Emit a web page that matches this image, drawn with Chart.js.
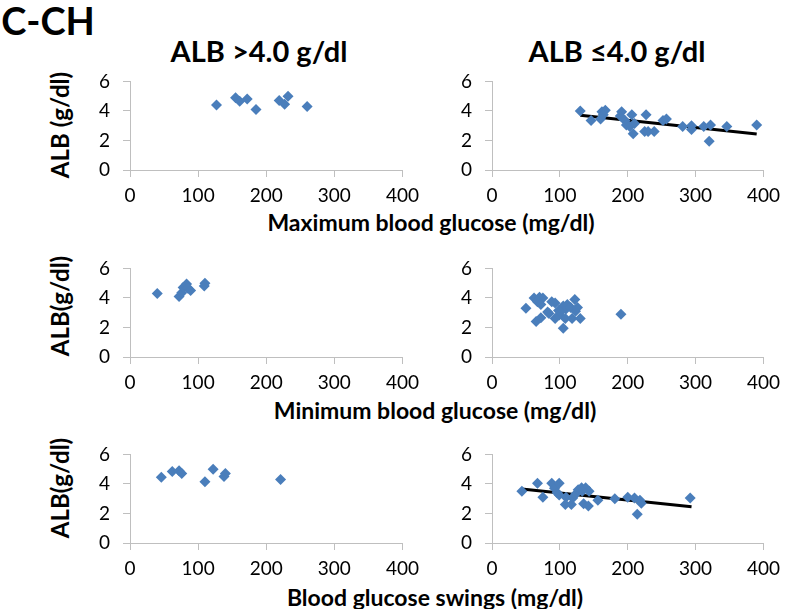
<!DOCTYPE html>
<html>
<head>
<meta charset="utf-8">
<script src="https://cdn.jsdelivr.net/npm/chart.js@4"></script>
<style>
  body { margin: 0; background: #fff; width: 787px; height: 609px; position: relative; overflow: hidden; font-family: Lato, sans-serif; }
  canvas { position: absolute; }
  .lbl { position: absolute; font-weight: bold; color: #000; white-space: nowrap; line-height: 1; transform: translate(-50%, -50%); }
  .rot { transform: translate(-50%, -50%) rotate(-90deg); }
</style>
</head>
<body>
<div class="lbl" style="left:48px; top:20px; font-size:38px;">C-CH</div>
<div class="lbl" style="left:259px; top:50px; font-size:29px;">ALB &gt;4.0 g/dl</div>
<div class="lbl" style="left:617px; top:50px; font-size:29px;">ALB ≤4.0 g/dl</div>
<div class="lbl" style="left:431px; top:222px; font-size:23px;">Maximum blood glucose (mg/dl)</div>
<div class="lbl" style="left:435px; top:410px; font-size:23px;">Minimum blood glucose (mg/dl)</div>
<div class="lbl" style="left:435px; top:597px; font-size:23px;">Blood glucose swings (mg/dl)</div>
<div class="lbl rot" style="left:60px; top:125px; font-size:24px;">ALB (g/dl)</div>
<div class="lbl rot" style="left:60px; top:306px; font-size:24px;">ALB(g/dl)</div>
<div class="lbl rot" style="left:60px; top:488px; font-size:24px;">ALB(g/dl)</div>

<canvas id="p1" width="341" height="148" style="left:85px; top:57px;"></canvas>
<canvas id="p2" width="340" height="148" style="left:447px; top:57px;"></canvas>
<canvas id="p3" width="341" height="148" style="left:85px; top:244px;"></canvas>
<canvas id="p4" width="340" height="148" style="left:447px; top:244px;"></canvas>
<canvas id="p5" width="341" height="148" style="left:85px; top:430px;"></canvas>
<canvas id="p6" width="340" height="148" style="left:447px; top:430px;"></canvas>

<script>
// --- Data ---
const xTicks = [0, 100, 200, 300, 400];
const yTicks = [0, 2, 4, 6];

// Maximum blood glucose
const maxHighX = [127, 155, 161, 172, 185, 219, 227, 232, 260];
const maxHighY = [4.4, 4.9, 4.65, 4.8, 4.1, 4.7, 4.45, 5.0, 4.3];
const maxLowX = [130, 146, 160, 162, 167, 164, 191, 189, 196, 198, 203, 206, 208, 210, 227, 225, 230, 239, 252, 257, 281, 294, 294, 312, 322, 320, 346, 390];
const maxLowY = [4.0, 3.35, 3.45, 3.95, 4.05, 3.75, 3.95, 3.65, 3.35, 3.05, 2.95, 3.75, 2.45, 3.15, 3.75, 2.6, 2.6, 2.6, 3.35, 3.45, 2.95, 3.0, 2.75, 2.95, 3.05, 1.95, 2.95, 3.05];
const maxTrendX = [130, 390];
const maxTrendY = [3.70, 2.44];

// Minimum blood glucose
const minHighX = [40, 72, 76, 78, 83, 85, 89, 110, 109];
const minHighY = [4.3, 4.1, 4.35, 4.7, 4.95, 4.65, 4.5, 5.0, 4.8];
const minLowX = [50, 62, 70, 75, 67, 72, 65, 72, 82, 88, 93, 93, 98, 99, 105, 105, 109, 108, 111, 116, 118, 122, 123, 126, 130, 190, 101, 84];
const minLowY = [3.3, 4.0, 4.05, 4.0, 3.75, 3.55, 2.4, 2.65, 3.05, 3.75, 3.65, 2.6, 3.15, 2.85, 3.45, 1.95, 3.25, 2.6, 3.55, 3.35, 2.6, 3.9, 3.1, 3.35, 2.6, 2.9, 3.05, 2.95];

// Blood glucose swings
const swHighX = [46, 62, 72, 76, 110, 122, 138, 140, 221];
const swHighY = [4.45, 4.85, 4.9, 4.7, 4.15, 5.0, 4.5, 4.7, 4.3];
const swLowX = [44, 67, 75, 88, 92, 99, 96, 99, 109, 108, 117, 119, 123, 127, 132, 138, 135, 142, 143, 156, 181, 200, 210, 214, 220, 218, 292, 133];
const swLowY = [3.5, 4.05, 3.1, 4.05, 3.7, 4.05, 3.4, 3.25, 3.1, 2.6, 2.6, 3.05, 3.3, 3.6, 3.75, 3.75, 2.65, 2.5, 3.5, 2.9, 3.0, 3.1, 3.05, 1.95, 2.7, 2.9, 3.05, 3.5];
const swTrendX = [44, 294];
const swTrendY = [3.66, 2.46];

Chart.defaults.font.family = 'Lato, sans-serif';
Chart.defaults.color = '#000';

const AXIS_GRAY = '#bfbfbf';
const MARKER = '#4a7ebb';

function toPoints(xs, ys) {
    return xs.map((x, i) => ({ x: x, y: ys[i] }));
}

function makePanel(id, xs, ys, trendX, trendY) {
    const datasets = [{
        data: toPoints(xs, ys),
        pointStyle: 'rectRot',
        pointRadius: 5.5,
        pointBackgroundColor: MARKER,
        pointBorderColor: MARKER,
        pointBorderWidth: 0,
        showLine: false
    }];
    if (trendX) {
        datasets.push({
            data: toPoints(trendX, trendY),
            showLine: true,
            borderColor: '#000',
            borderWidth: 3,
            pointRadius: 0
        });
    }

    new Chart(document.getElementById(id), {
        type: 'scatter',
        data: { datasets },
        options: {
            responsive: false,
            animation: false,
            layout: { padding: { top: 12, right: 20, bottom: 0, left: 0 } },
            plugins: { legend: { display: false }, tooltip: { enabled: false } },
            scales: {
                x: {
                    type: 'linear',
                    min: xTicks[0],
                    max: xTicks[xTicks.length - 1],
                    afterBuildTicks: s => { s.ticks = xTicks.map(v => ({ value: v })); },
                    afterFit: s => { s.height = 35; },
                    ticks: { font: { size: 19 }, padding: 7, maxRotation: 0 },
                    grid: { drawOnChartArea: false, tickLength: 7, color: AXIS_GRAY },
                    border: { color: AXIS_GRAY }
                },
                y: {
                    type: 'linear',
                    min: yTicks[0],
                    max: yTicks[yTicks.length - 1],
                    afterBuildTicks: s => { s.ticks = yTicks.map(v => ({ value: v })); },
                    afterFit: s => { s.width = 45; },
                    ticks: { font: { size: 19 }, padding: 13 },
                    grid: { drawOnChartArea: false, tickLength: 7, color: AXIS_GRAY },
                    border: { color: AXIS_GRAY }
                }
            }
        }
    });
}

makePanel('p1', maxHighX, maxHighY);
makePanel('p2', maxLowX, maxLowY, maxTrendX, maxTrendY);
makePanel('p3', minHighX, minHighY);
makePanel('p4', minLowX, minLowY);
makePanel('p5', swHighX, swHighY);
makePanel('p6', swLowX, swLowY, swTrendX, swTrendY);
</script>
</body>
</html>
